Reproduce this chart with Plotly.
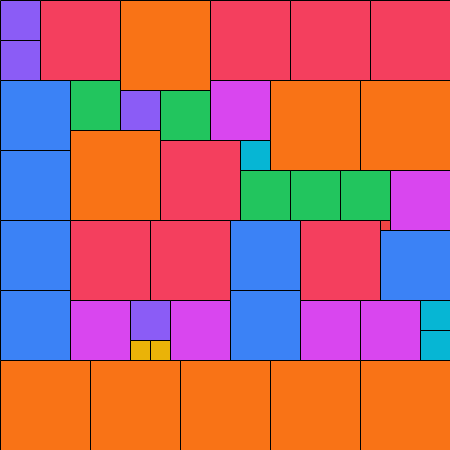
import plotly.graph_objects as go

# Square packing: left edge, top edge, side length of each square
left = [0, 0, 40, 120, 210, 290, 370,
        0, 0, 70, 120, 160, 210, 270, 360, 70, 160, 240, 240, 290, 340, 390,
        0, 0, 70, 150, 230, 230, 300, 380, 380, 70, 130, 130, 150, 170, 300, 360, 420, 420,
        0, 90, 180, 270, 360]
top = [0, 40, 0, 0, 0, 0, 0,
       80, 150, 80, 90, 90, 80, 80, 80, 130, 140, 140, 170, 170, 170, 170,
       220, 290, 220, 220, 220, 290, 220, 220, 230, 300, 300, 340, 340, 300, 300, 300, 300, 330,
       360, 360, 360, 360, 360]
side = [40, 40, 80, 90, 80, 80, 80,
        70, 70, 50, 40, 50, 60, 90, 90, 90, 80, 30, 50, 50, 50, 60,
        70, 70, 80, 80, 70, 70, 80, 10, 70, 60, 40, 20, 20, 60, 60, 60, 30, 30,
        90, 90, 90, 90, 90]

palette = {10: "#EF4444", 20: "#EAB308", 30: "#06B6D4", 40: "#8B5CF6",
           50: "#22C55E", 60: "#D946EF", 70: "#3B82F6", 80: "#F43F5E", 90: "#F97316"}

fig = go.Figure(go.Bar(
    x=[l + s / 2 for l, s in zip(left, side)],
    width=side,
    y=side,
    base=top,
    marker=dict(color=[palette[s] for s in side],
                line=dict(color="black", width=1)),
    hoverinfo="skip",
))
fig.update_layout(
    width=450, height=450,
    margin=dict(l=0, r=0, t=0, b=0),
    paper_bgcolor="white", plot_bgcolor="white",
    showlegend=False, bargap=0,
    xaxis=dict(range=[-1, 449], visible=False, fixedrange=True),
    yaxis=dict(range=[449, -1], visible=False, fixedrange=True),
)
fig.write_html(
    "out.html",
    config={"displayModeBar": False},
    post_script="document.body.style.margin='0';document.body.style.overflow='hidden';",
)
